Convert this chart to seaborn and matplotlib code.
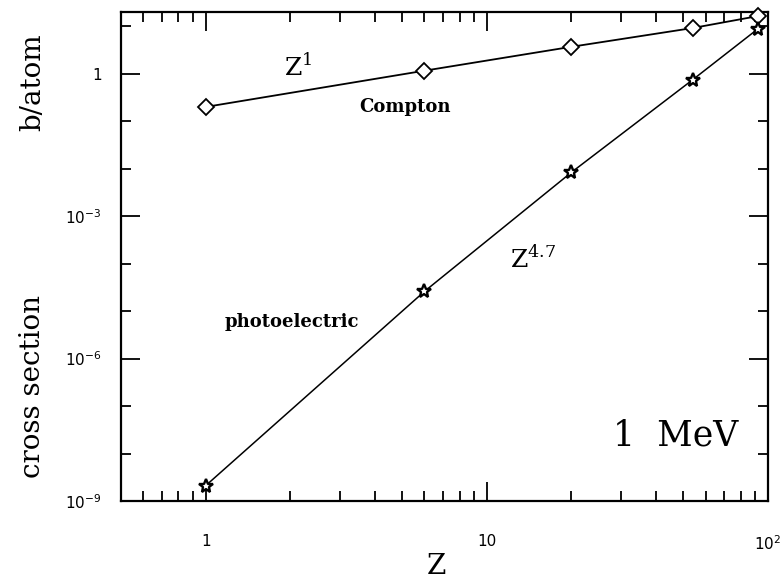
import numpy as np
import matplotlib
matplotlib.use("Agg")
import matplotlib.pyplot as plt
import seaborn as sns
from matplotlib.ticker import FixedLocator, FixedFormatter, NullFormatter

# ---- data ----
Z = [1, 6, 20, 54, 92]
compton = [0.20, 1.16, 3.7, 9.2, 16.4]
photo = [2.1e-9, 2.6e-5, 8.4e-3, 0.75, 8.8]

x_major = [1, 10, 100]
x_major_labels = ["1", "10", r"$10^2$"]
y_major = [1e-9, 1e-6, 1e-3, 1]
y_major_labels = [r"$10^{-9}$", r"$10^{-6}$", r"$10^{-3}$", "1"]

sns.set_style("ticks")
plt.rcParams['font.family'] = ['DejaVu Sans']
plt.rcParams['text.color'] = 'black'
plt.rcParams['axes.labelcolor'] = 'black'
plt.rcParams['xtick.color'] = 'black'
plt.rcParams['ytick.color'] = 'black'

W, H = 784, 584
fig = plt.figure(figsize=(W / 100, H / 100), dpi=100)
ax = fig.add_axes([121 / W, 1 - 501 / H, (768 - 121) / W, (501 - 12) / H])

sns.lineplot(x=Z, y=compton, ax=ax, color="black", lw=1.3, marker="D",
             markersize=8, markerfacecolor="white", markeredgecolor="black",
             markeredgewidth=1.3, clip_on=False, zorder=3)
sns.lineplot(x=Z, y=photo, ax=ax, color="black", lw=1.1, marker="*",
             markersize=10, markerfacecolor="white", markeredgecolor="black",
             markeredgewidth=1.7, clip_on=False, zorder=3)

ax.set_xscale("log")
ax.set_yscale("log")
ax.set_xlim(0.5, 100)
ax.set_ylim(1e-9, 20)

# x ticks
ax.xaxis.set_major_locator(FixedLocator(x_major))
ax.xaxis.set_major_formatter(FixedFormatter(x_major_labels))
xminor = [m * d for d in (0.1, 1, 10) for m in range(2, 10) if 0.5 < m * d < 100]
ax.xaxis.set_minor_locator(FixedLocator(xminor))
ax.xaxis.set_minor_formatter(NullFormatter())
# y ticks
ax.yaxis.set_major_locator(FixedLocator(y_major))
ax.yaxis.set_major_formatter(FixedFormatter(y_major_labels))
yminor = [10.0 ** k for k in range(-9, 2) if k % 3 != 0]
ax.yaxis.set_minor_locator(FixedLocator(yminor))
ax.yaxis.set_minor_formatter(NullFormatter())

ax.tick_params(which="both", direction="in", top=True, right=True,
               color="black", width=1.3, labelcolor="black")
ax.tick_params(which="major", length=14)
ax.tick_params(which="minor", length=7)
ax.tick_params(axis="x", which="major", pad=24, labelsize=11)
ax.tick_params(axis="y", which="major", pad=14, labelsize=11)

for s in ax.spines.values():
    s.set_linewidth(1.6)
    s.set_color("black")

serif = ["DejaVu Serif"]

def ftext(px, py, s, **kw):
    fig.text(px / W, 1 - py / H, s, family=serif, ha="center", va="center",
             color="black", **kw)

# axis labels
ftext(436, 566, "Z", fontsize=20)
ftext(33, 82, "b/atom", fontsize=20, rotation=90)
ftext(33, 386, "cross section", fontsize=20, rotation=90)

# annotations
ftext(298, 68, r"Z$^\mathregular{1}$", fontsize=18)
ftext(405, 107, "Compton", fontsize=13, fontweight="bold")
ftext(533, 260, r"Z$^\mathregular{4.7}$", fontsize=18)
ftext(292, 322, "photoelectric", fontsize=13, fontweight="bold")
ftext(676, 436, "1  MeV", fontsize=25)

fig.savefig("out.png", dpi=100)
